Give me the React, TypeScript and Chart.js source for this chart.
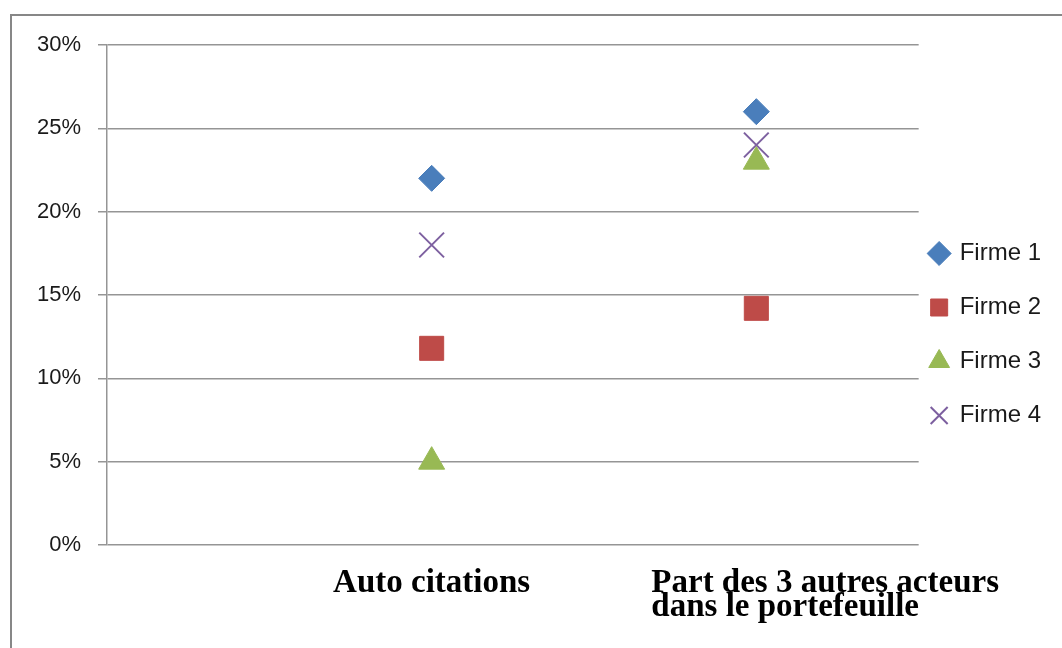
import React, { useEffect, useRef } from 'react';
import { Chart, registerables } from 'chart.js';

Chart.register(...registerables);

// ---- data ----
const categories = ['Auto citations', 'Part des 3 autres acteurs dans le portefeuille'];
const categoryLines = [['Auto citations'], ['Part des 3 autres acteurs', 'dans le portefeuille']];
const categoryX = [1, 2];
const seriesNames = ['Firme 1', 'Firme 2', 'Firme 3', 'Firme 4'];
const firme1 = [0.22, 0.26];
const firme2 = [0.118, 0.142];
const firme3 = [0.05, 0.23];
const firme4 = [0.18, 0.24];
const yTickValues = [0, 0.05, 0.1, 0.15, 0.2, 0.25, 0.3];

// ---- styles ----
const FONT_SANS = '"Liberation Sans", Arial, sans-serif';
const FONT_SERIF = '"Liberation Serif", "Times New Roman", serif';
const GRID = '#959595';
const catLabelStyle = [
  { align: 'center', dx: 0 },
  { align: 'left', dx: -105 },
];

const framePlugin = {
  id: 'frame',
  beforeDraw(chart: any) {
    const ctx = chart.ctx;
    ctx.save();
    ctx.fillStyle = '#ffffff';
    ctx.fillRect(0, 0, chart.width, chart.height);
    ctx.strokeStyle = '#878787';
    ctx.lineWidth = 2;
    ctx.strokeRect(11, 15, chart.width + 40, chart.height + 40);
    ctx.restore();
  },
};

const catPlugin = {
  id: 'catLabels',
  afterDraw(chart: any) {
    const { ctx, chartArea } = chart;
    const xs = chart.scales.x;
    ctx.save();
    ctx.font = `bold 33px ${FONT_SERIF}`;
    ctx.fillStyle = '#000000';
    ctx.textBaseline = 'alphabetic';
    categoryLines.forEach((lines, i) => {
      const px = xs.getPixelForValue(categoryX[i]);
      const st = catLabelStyle[i];
      ctx.textAlign = st.align;
      lines.forEach((line, j) => {
        ctx.fillText(line, px + st.dx, chartArea.bottom + 47 + j * 24);
      });
    });
    ctx.restore();
  },
};

export default function App() {
  const ref = useRef<HTMLCanvasElement | null>(null);
  useEffect(() => {
    if (!ref.current) return;
    const mk = (vals: number[]) => vals.map((v, i) => ({ x: categoryX[i], y: v }));
    const chart = new Chart(ref.current, {
      type: 'scatter',
      data: {
        datasets: [
          {
            label: seriesNames[0],
            data: mk(firme1),
            pointStyle: 'rectRot',
            pointRadius: 13,
            backgroundColor: '#4A7EBB',
            borderColor: '#4A7EBB',
            borderWidth: 1,
          },
          {
            label: seriesNames[1],
            data: mk(firme2),
            pointStyle: 'rect',
            pointRadius: 17,
            backgroundColor: '#BE4B48',
            borderColor: '#BE4B48',
            borderWidth: 1,
          },
          {
            label: seriesNames[2],
            data: mk(firme3),
            pointStyle: 'triangle',
            pointRadius: 15,
            backgroundColor: '#98B954',
            borderColor: '#98B954',
            borderWidth: 1,
          },
          {
            label: seriesNames[3],
            data: mk(firme4),
            pointStyle: 'crossRot',
            pointRadius: 17.5,
            backgroundColor: '#7D60A0',
            borderColor: '#7D60A0',
            borderWidth: 2,
          },
        ],
      },
      options: {
        responsive: true,
        maintainAspectRatio: false,
        animation: false,
        layout: { padding: { left: 12, top: 45, right: 11, bottom: 6 } },
        plugins: {
          tooltip: { enabled: false },
          legend: {
            position: 'right',
            align: 'center',
            labels: {
              usePointStyle: true,
              boxWidth: 17,
              boxHeight: 17,
              padding: 12,
              color: '#1a1a1a',
              font: { family: FONT_SANS, size: 24, lineHeight: 42 / 24 },
              generateLabels: (c: any) => {
                const items = Chart.defaults.plugins.legend.labels.generateLabels(c);
                return items.map((it: any) => ({ ...it, text: [it.text] }));
              },
            },
          },
        },
        scales: {
          x: {
            type: 'linear',
            min: 0,
            max: 2.5,
            display: true,
            grid: { display: false },
            border: { display: false },
            ticks: { display: false },
            afterFit: (s: any) => {
              s.height = 97;
            },
          },
          y: {
            min: 0,
            max: 0.3,
            afterBuildTicks: (s: any) => {
              s.ticks = yTickValues.map((v) => ({ value: v }));
            },
            ticks: {
              padding: 17,
              color: '#1a1a1a',
              font: { family: FONT_SANS, size: 22 },
              callback: (v: any) => Math.round(Number(v) * 100) + '%',
            },
            grid: { color: GRID, lineWidth: 1.5, tickLength: 9, drawTicks: true },
            border: { display: true, color: GRID, width: 1.5 },
            afterFit: (s: any) => {
              s.width = 95;
            },
          },
        },
      },
      plugins: [framePlugin, catPlugin],
    });
    return () => chart.destroy();
  }, []);
  return (
    <div style={{ position: 'absolute', left: 0, top: 0, width: 1062, height: 648 }}>
      <canvas ref={ref} />
    </div>
  );
}
